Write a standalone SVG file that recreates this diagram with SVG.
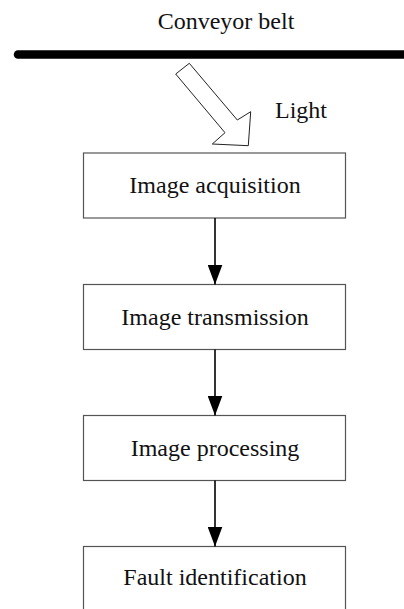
<svg xmlns="http://www.w3.org/2000/svg" width="404" height="609" viewBox="0 0 404 609">
  <style>
    .box { fill: #ffffff; stroke: #555555; stroke-width: 1.2; }
    .label { font-family: "Liberation Serif", "Times New Roman", serif; font-size: 24px; fill: #111111; }
    .mid { text-anchor: middle; }
    .flow { stroke: #000000; stroke-width: 1.6; fill: none; marker-end: url(#head); }
  </style>
  <defs>
    <!-- filled triangular head, 20 long and 15 wide, tip on the line end -->
    <marker id="head" markerWidth="20" markerHeight="15" refX="20" refY="7.5" orient="auto" markerUnits="userSpaceOnUse" viewBox="0 0 20 15">
      <path d="M0,0 L20,7.5 L0,15 Z" fill="#000000"/>
    </marker>
  </defs>

  <rect width="404" height="609" fill="#ffffff"/>

  <!-- conveyor belt -->
  <g id="belt">
    <text class="label mid" x="226" y="29">Conveyor belt</text>
    <line x1="18" y1="54.5" x2="420" y2="54.5" stroke="#000000" stroke-width="8.5" stroke-linecap="round"/>
  </g>

  <!-- light arrow -->
  <g id="light">
    <polygon points="175.7,74 189.3,63.3 237.3,120 250.7,111.7 248.3,145.7 212.3,144 225,132.7" fill="#ffffff" stroke="#222222" stroke-width="1"/>
    <text class="label" x="275" y="118">Light</text>
  </g>

  <g id="acquisition">
    <rect class="box" x="83.5" y="153" width="262" height="65"/>
    <text class="label mid" x="215" y="193">Image acquisition</text>
  </g>

  <g id="transmission">
    <rect class="box" x="83.5" y="284.5" width="262" height="65"/>
    <text class="label mid" x="215" y="324.5">Image transmission</text>
  </g>

  <g id="processing">
    <rect class="box" x="83.5" y="415.5" width="262" height="65"/>
    <text class="label mid" x="215" y="455.5">Image processing</text>
  </g>

  <g id="identification">
    <rect class="box" x="83.5" y="546.5" width="262" height="70"/>
    <text class="label mid" x="215" y="585">Fault identification</text>
  </g>

  <!-- connectors -->
  <g id="connectors">
    <line class="flow" x1="215" y1="218" x2="215" y2="284.5"/>
    <line class="flow" x1="215" y1="349.5" x2="215" y2="415.5"/>
    <line class="flow" x1="215" y1="480.5" x2="215" y2="546.5"/>
  </g>
</svg>
